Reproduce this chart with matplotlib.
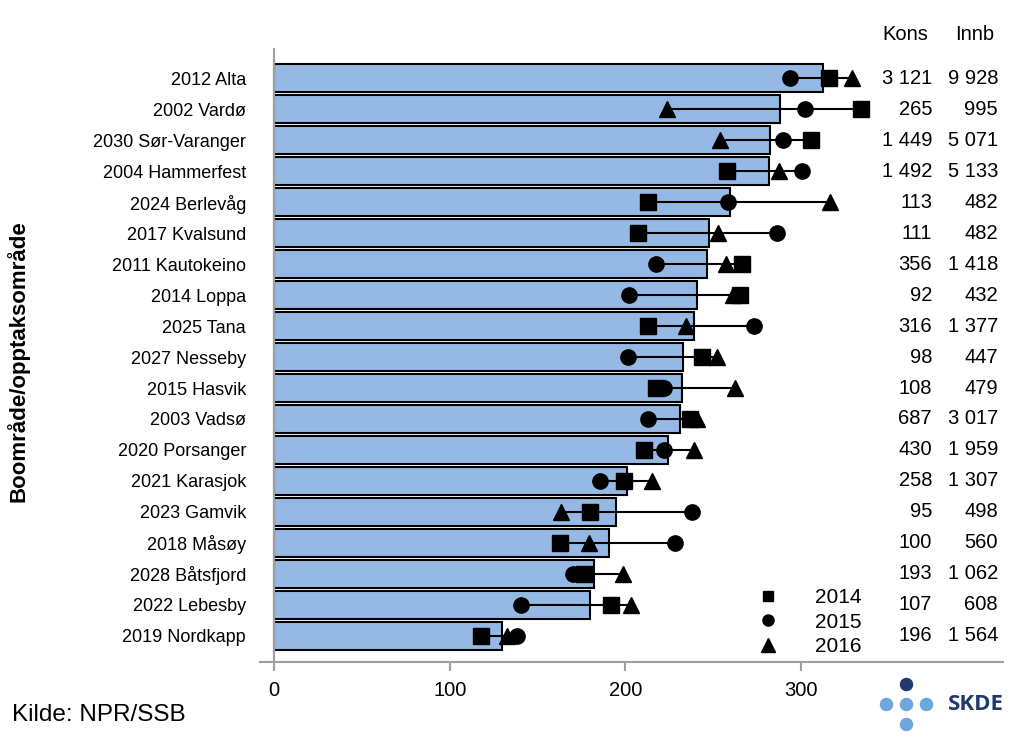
import matplotlib
matplotlib.use("Agg")
import matplotlib.pyplot as plt
from matplotlib.lines import Line2D
import numpy as np

plt.rcParams['font.family'] = ['Liberation Sans', 'DejaVu Sans']

# Kjønns- og aldersjustert rate per område, 2014-2016
areas = ['2012 Alta', '2002 Vardø', '2030 Sør-Varanger', '2004 Hammerfest',
         '2024 Berlevåg', '2017 Kvalsund', '2011 Kautokeino', '2014 Loppa',
         '2025 Tana', '2027 Nesseby', '2015 Hasvik', '2003 Vadsø',
         '2020 Porsanger', '2021 Karasjok', '2023 Gamvik', '2018 Måsøy',
         '2028 Båtsfjord', '2022 Lebesby', '2019 Nordkapp']
mean_rate = [312.8, 288.2, 282.6, 281.9, 259.4, 247.6, 246.5, 240.9, 239.3,
             232.6, 232.1, 231.2, 224.0, 200.8, 194.7, 190.7, 182.3, 179.6, 129.9]
rate_2014 = [315.7, 333.9, 305.5, 257.8, 212.8, 207.3, 266.3, 265.0, 212.7,
             243.8, 217.3, 237.0, 210.9, 199.2, 180.1, 162.7, 176.7, 192.0, 118.1]
rate_2015 = [293.8, 302.4, 289.7, 300.6, 258.5, 286.4, 217.3, 201.9, 273.1,
             201.5, 221.8, 212.7, 221.8, 185.7, 237.9, 228.0, 170.0, 140.7, 138.4]
rate_2016 = [329.2, 223.5, 253.7, 287.7, 316.3, 252.6, 257.1, 261.1, 234.8,
             252.1, 262.3, 240.9, 239.3, 215.4, 163.6, 179.4, 198.7, 203.0, 132.8]
kons = ['3 121', '265', '1 449', '1 492', '113', '111', '356', '92', '316', '98',
        '108', '687', '430', '258', '95', '100', '193', '107', '196']
innb = ['9 928', '995', '5 071', '5 133', '482', '482', '1 418', '432', '1 377', '447',
        '479', '3 017', '1 959', '1 307', '498', '560', '1 062', '608', '1 564']
years = ['2014', '2015', '2016']

fig = plt.figure(figsize=(10.24, 7.45), dpi=100)
ax = fig.add_axes([0.2539, 0.1114, 0.7256, 0.8242])

y = np.arange(len(areas))
grey = '#A0A0A0'

ax.barh(y, mean_rate, height=0.9, color='#95B9E4', edgecolor='black', linewidth=1.5, zorder=2)

yearly = np.array([rate_2014, rate_2015, rate_2016])
ax.hlines(y, yearly.min(axis=0), yearly.max(axis=0), color='black', linewidth=1.5, zorder=3)
ax.plot(rate_2014, y, ls='none', marker='s', color='black', markersize=11, zorder=4)
ax.plot(rate_2015, y, ls='none', marker='o', color='black', markersize=11, zorder=4)
ax.plot(rate_2016, y, ls='none', marker='^', color='black', markersize=11, zorder=4)

ax.axvline(0, color=grey, linewidth=1.5, zorder=5)
ax.set_xlim(-8, 415)
ax.set_ylim(18.84, -0.97)

for s in ['top', 'right', 'left']:
    ax.spines[s].set_visible(False)
ax.spines['bottom'].set_color(grey)
ax.spines['bottom'].set_linewidth(1.5)

ax.set_xticks([0, 100, 200, 300])
ax.tick_params(axis='x', colors=grey, length=6.5, width=1.5, labelsize=14.5, pad=7,
               labelcolor='black')
ax.set_yticks(y, areas)
ax.tick_params(axis='y', length=0, labelsize=13, pad=10)
ax.set_ylabel('Boområde/opptaksområde', fontsize=16, fontweight='bold')
ax.yaxis.set_label_coords(-0.31, 0.49)

# Kons / Innb kolonner
trans = ax.get_yaxis_transform()
ax.text(0.869, -1.39, 'Kons', transform=trans, ha='center', va='center', fontsize=14.5)
ax.text(0.962, -1.39, 'Innb', transform=trans, ha='center', va='center', fontsize=14.5)
for i in range(len(areas)):
    ax.text(0.9045, y[i], kons[i], transform=trans, ha='right', va='center', fontsize=14.5)
    ax.text(0.9933, y[i], innb[i], transform=trans, ha='right', va='center', fontsize=14.5)

handles = [Line2D([], [], ls='none', marker=m, color='black', markersize=ms)
           for m, ms in [('s', 7), ('o', 8), ('^', 10)]]
fig.legend(handles, years, loc='upper left', bbox_to_anchor=(758 / 1024, 1 - 588 / 745),
           frameon=False, fontsize=15, handlelength=1, handletextpad=1.76,
           labelspacing=0.27, borderpad=0, borderaxespad=0)

fig.text(12 / 1024, 1 - 715 / 745, 'Kilde: NPR/SSB', fontsize=17.5, va='center', ha='left')

# SKDE logo
lax = fig.add_axes([0, 0, 1, 1])
lax.set_xlim(0, 1024)
lax.set_ylim(745, 0)
lax.axis('off')
lax.scatter([906], [684], s=75, color='#1F3A6E')
lax.scatter([886, 906, 926, 906], [704, 704, 704, 724], s=75, color='#6CA6DC')
lax.text(1004, 704, 'SKDE', fontsize=16, fontweight='bold', color='#1F3A6E',
         family=['Open Sans', 'DejaVu Sans'], ha='right', va='center', clip_on=False)

fig.savefig('out.png', dpi=100)
